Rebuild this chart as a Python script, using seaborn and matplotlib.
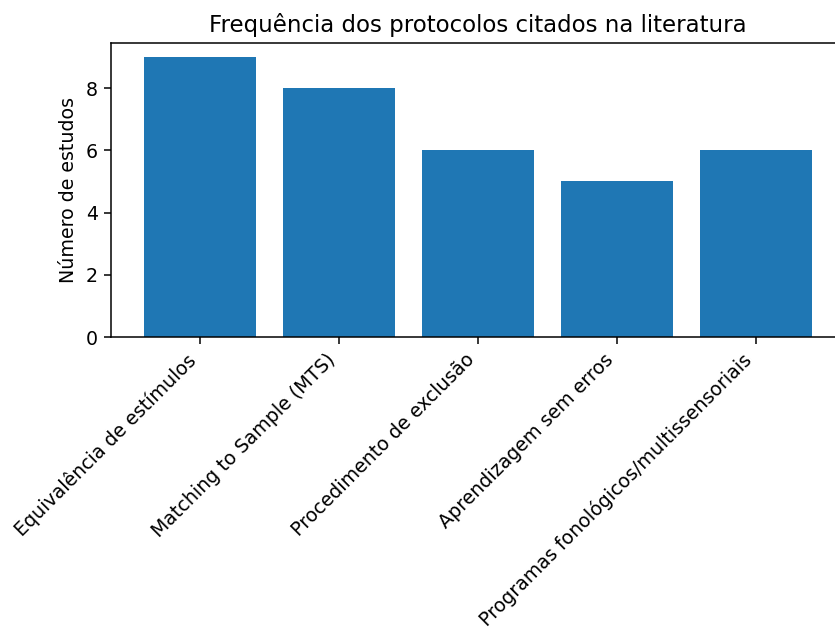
import matplotlib
matplotlib.use("Agg")
import matplotlib.pyplot as plt
import seaborn as sns

categories = ["Equivalência de estímulos", "Matching to Sample (MTS)",
              "Procedimento de exclusão", "Aprendizagem sem erros",
              "Programas fonológicos/multissensoriais"]
values = [9, 8, 6, 5, 6]

s = 1.37
plt.rcParams.update({
    "axes.linewidth": 0.8 * s,
    "xtick.major.width": 0.8 * s, "ytick.major.width": 0.8 * s,
    "xtick.major.size": 3.5 * s, "ytick.major.size": 3.5 * s,
    "xtick.major.pad": 3.5 * s, "ytick.major.pad": 3.5 * s,
    "axes.labelpad": 4 * s,
})

fig = plt.figure(figsize=(8.35, 6.28), dpi=100)
ax = fig.add_axes([111/835, 1-337/628, 734/835, 294/628])
sns.barplot(x=categories, y=values, color="#1f77b4", saturation=1, width=0.8, ax=ax)
ax.set_xlim(-0.64, 4.64)
ax.set_ylim(0, 9.45)
ax.set_title("Frequência dos protocolos citados na literatura", fontsize=12 * s, pad=6 * s)
ax.set_ylabel("Número de estudos", fontsize=10 * s)
ax.tick_params(labelsize=10 * s)
plt.setp(ax.get_xticklabels(), rotation=45, ha="right")
fig.savefig("out.png", dpi=100)
